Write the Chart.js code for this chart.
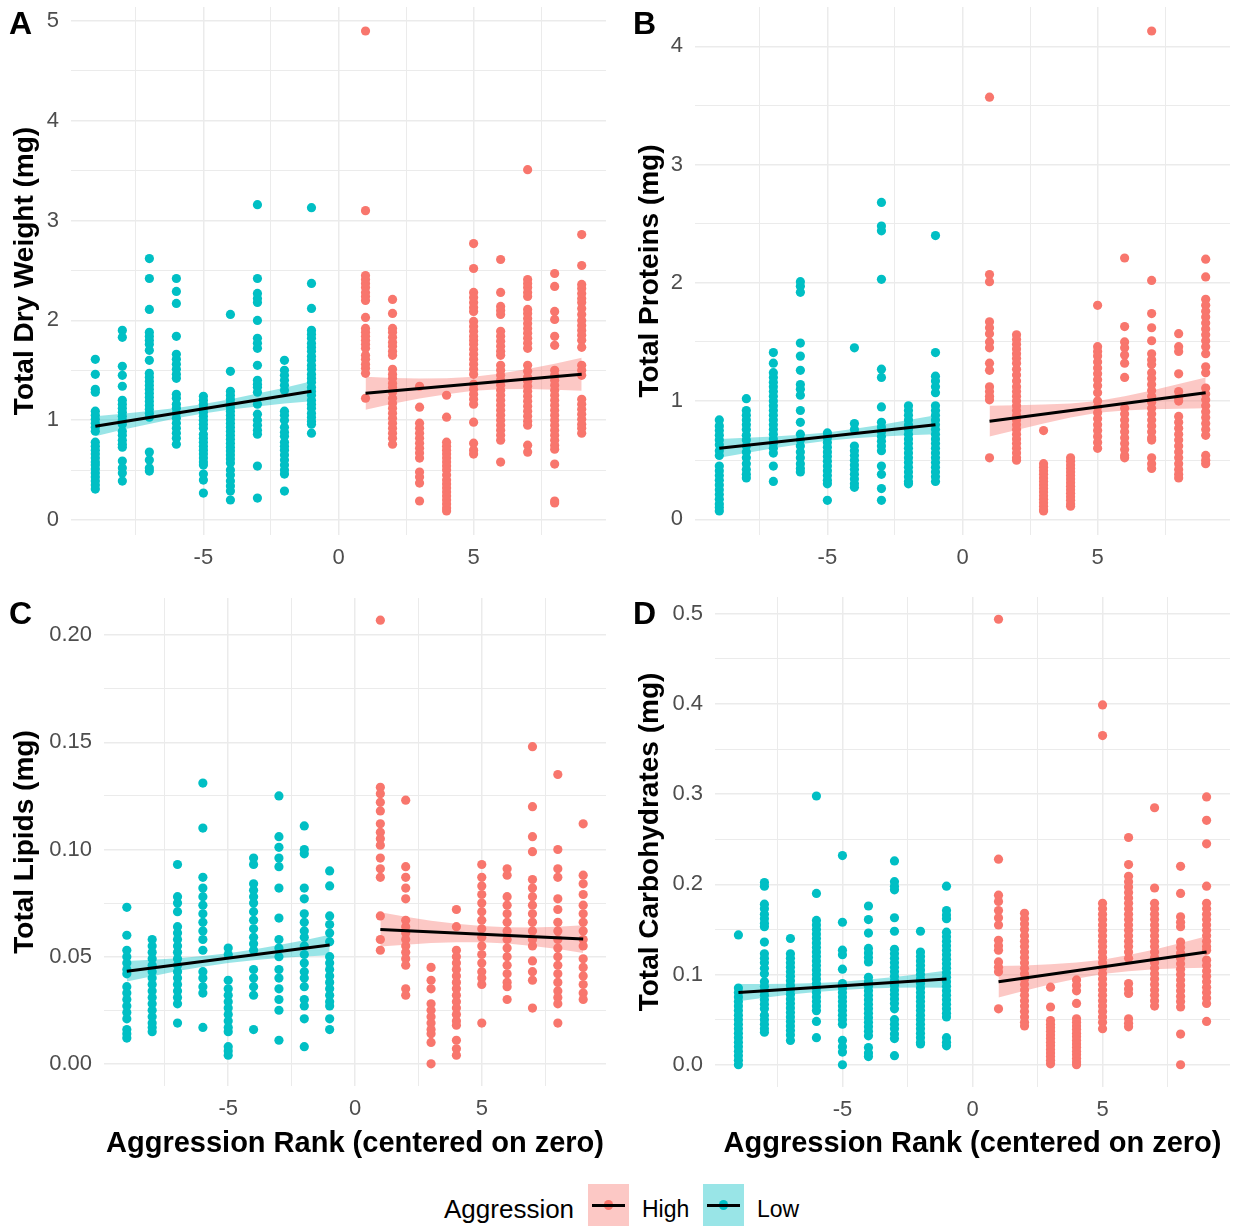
<!DOCTYPE html>
<html>
<head>
<meta charset="utf-8">
<title>Aggression rank and body composition</title>
<script src="https://cdn.jsdelivr.net/npm/chart.js@4.4.1/dist/chart.umd.min.js"></script>
<style>
  html, body { margin: 0; padding: 0; background: #ffffff; }
  #wrap { position: relative; width: 1241px; height: 1226px; overflow: hidden; background: #ffffff;
          font-family: 'Liberation Sans', Arial, Helvetica, sans-serif; }
  .panel { position: absolute; }
  .panel canvas { display: block; }
  .tag { position: absolute; font-weight: bold; font-size: 32px; line-height: 32px; color: #000; }
  .legend-text { position: absolute; color: #000; white-space: nowrap; }
  .key { position: absolute; width: 41px; height: 42px; }
  .key .dot { position: absolute; left: 15.9px; top: 16.4px; width: 9.2px; height: 9.2px; border-radius: 50%; }
  .key .bar { position: absolute; left: 4px; top: 19.5px; width: 33px; height: 3px; background: #000; }
</style>
</head>
<body>
<div id="wrap">
  <div class="panel" style="left:0px;top:0px;"><canvas id="cA" width="620" height="580"></canvas></div>
  <div class="panel" style="left:622px;top:0px;"><canvas id="cB" width="619" height="580"></canvas></div>
  <div class="panel" style="left:0px;top:580px;"><canvas id="cC" width="620" height="600"></canvas></div>
  <div class="panel" style="left:622px;top:580px;"><canvas id="cD" width="619" height="600"></canvas></div>

  <div class="tag" style="left:9px;top:7px;">A</div>
  <div class="tag" style="left:633px;top:7px;">B</div>
  <div class="tag" style="left:9px;top:597px;">C</div>
  <div class="tag" style="left:633px;top:597px;">D</div>

  <div class="legend-text" style="left:444px;top:1194px;font-size:26px;line-height:30px;">Aggression</div>
  <div class="key" style="left:588px;top:1184px;background:rgba(248,118,109,0.4);"><i class="dot" style="background:#F8766D;"></i><i class="bar"></i></div>
  <div class="legend-text" style="left:642px;top:1195px;font-size:23px;line-height:28px;">High</div>
  <div class="key" style="left:703px;top:1184px;background:rgba(0,191,196,0.4);"><i class="dot" style="background:#00BFC4;"></i><i class="bar"></i></div>
  <div class="legend-text" style="left:757px;top:1195px;font-size:23px;line-height:28px;">Low</div>
</div>

<script>
// ---------------------------------------------------------------
// Aggression ranks (centred on zero) for the two groups
// ---------------------------------------------------------------
const lowRanks  = [-9, -8, -7, -6, -5, -4, -3, -2, -1];
const highRanks = [1, 2, 3, 4, 5, 6, 7, 8, 9];

// ---------------------------------------------------------------
// Total dry weight (mg): one list of individuals per rank
// ---------------------------------------------------------------
const dryLow = [
  [1.61, 1.46, 1.31, 1.28, 1.09, 1.05, 1.01, 0.97, 0.93, 0.89, 0.78, 0.74, 0.70, 0.66, 0.62, 0.58, 0.55, 0.51, 0.47, 0.43, 0.39, 0.35, 0.31],
  [1.90, 1.83, 1.54, 1.45, 1.34, 1.20, 1.16, 1.12, 1.08, 1.04, 1.00, 0.96, 0.89, 0.85, 0.80, 0.76, 0.73, 0.59, 0.52, 0.47, 0.39],
  [2.62, 2.42, 2.11, 1.88, 1.84, 1.80, 1.76, 1.70, 1.60, 1.47, 1.43, 1.39, 1.35, 1.31, 1.27, 1.23, 1.19, 1.15, 1.11, 1.07, 1.03, 0.68, 0.60, 0.52, 0.49],
  [2.42, 2.29, 2.17, 1.84, 1.66, 1.61, 1.56, 1.51, 1.46, 1.42, 1.26, 1.22, 1.16, 1.12, 1.07, 1.02, 0.97, 0.92, 0.87, 0.82, 0.76],
  [1.24, 1.20, 1.16, 1.12, 1.08, 1.04, 1.00, 0.96, 0.92, 0.86, 0.82, 0.78, 0.74, 0.70, 0.66, 0.62, 0.58, 0.55, 0.46, 0.40, 0.27],
  [2.06, 1.49, 1.29, 1.25, 1.21, 1.17, 1.13, 1.09, 1.05, 1.01, 0.97, 0.93, 0.89, 0.85, 0.81, 0.77, 0.73, 0.69, 0.65, 0.61, 0.57, 0.50, 0.45, 0.39, 0.34, 0.29, 0.20],
  [3.16, 2.42, 2.27, 2.22, 2.18, 2.00, 1.82, 1.77, 1.72, 1.55, 1.40, 1.36, 1.33, 1.28, 1.16, 1.06, 1.00, 0.95, 0.90, 0.86, 0.54, 0.22],
  [1.60, 1.50, 1.45, 1.40, 1.35, 1.30, 1.09, 1.05, 1.00, 0.93, 0.88, 0.84, 0.78, 0.74, 0.70, 0.65, 0.60, 0.55, 0.50, 0.46, 0.29],
  [3.13, 2.37, 2.12, 1.90, 1.86, 1.82, 1.77, 1.73, 1.69, 1.64, 1.60, 1.55, 1.51, 1.46, 1.42, 1.38, 1.33, 1.29, 1.25, 1.20, 1.16, 1.12, 1.07, 1.03, 0.99, 0.96, 0.87]
];
const dryHigh = [
  [4.90, 3.10, 2.45, 2.41, 2.37, 2.33, 2.28, 2.24, 2.20, 2.03, 1.92, 1.88, 1.84, 1.80, 1.76, 1.72, 1.65, 1.61, 1.56, 1.52, 1.47, 1.22],
  [2.21, 2.07, 1.92, 1.88, 1.83, 1.78, 1.74, 1.69, 1.65, 1.51, 1.46, 1.42, 1.37, 1.33, 1.28, 1.22, 1.17, 1.12, 1.07, 1.02, 0.97, 0.92, 0.87, 0.82, 0.76],
  [1.34, 1.13, 0.97, 0.92, 0.87, 0.82, 0.77, 0.72, 0.67, 0.62, 0.48, 0.43, 0.37, 0.19],
  [1.25, 1.03, 0.78, 0.74, 0.70, 0.66, 0.62, 0.58, 0.54, 0.50, 0.45, 0.40, 0.36, 0.32, 0.28, 0.24, 0.20, 0.16, 0.12, 0.09],
  [2.77, 2.52, 2.28, 2.23, 2.18, 2.13, 2.09, 1.99, 1.94, 1.89, 1.84, 1.80, 1.76, 1.71, 1.66, 1.61, 1.56, 1.51, 1.46, 1.36, 1.31, 1.26, 1.21, 1.16, 0.98, 0.77, 0.70, 0.66],
  [2.61, 2.28, 2.14, 2.10, 2.06, 1.89, 1.84, 1.79, 1.74, 1.69, 1.65, 1.55, 1.50, 1.45, 1.40, 1.35, 1.30, 1.25, 1.20, 1.15, 1.10, 1.05, 1.00, 0.95, 0.90, 0.85, 0.80, 0.58],
  [3.51, 2.41, 2.37, 2.33, 2.28, 2.24, 2.11, 2.07, 2.02, 1.97, 1.92, 1.87, 1.82, 1.77, 1.72, 1.55, 1.49, 1.43, 1.39, 1.34, 1.29, 1.24, 1.19, 1.14, 1.09, 1.04, 0.99, 0.95, 0.75, 0.68],
  [2.47, 2.34, 2.09, 2.01, 1.84, 1.75, 1.50, 1.45, 1.40, 1.35, 1.30, 1.25, 1.20, 1.15, 1.10, 1.05, 1.00, 0.95, 0.90, 0.85, 0.80, 0.75, 0.71, 0.56, 0.19, 0.17],
  [2.86, 2.55, 2.36, 2.32, 2.27, 2.22, 2.18, 2.12, 2.06, 2.00, 1.95, 1.90, 1.85, 1.80, 1.73, 1.55, 1.50, 1.45, 1.21, 1.16, 1.11, 1.06, 1.01, 0.96, 0.92, 0.87]
];
// linear fit at the first and last rank of each group, and its 95% band per rank
const dryLowFit  = [0.94, 1.29];
const dryHighFit = [1.27, 1.46];
const dryLowBandLo  = [0.840, 0.904, 0.963, 1.019, 1.068, 1.107, 1.138, 1.166, 1.190];
const dryLowBandHi  = [1.040, 1.064, 1.093, 1.123, 1.162, 1.211, 1.268, 1.326, 1.390];
const dryHighBandLo = [1.105, 1.164, 1.217, 1.261, 1.295, 1.309, 1.312, 1.306, 1.295];
const dryHighBandHi = [1.435, 1.424, 1.417, 1.421, 1.435, 1.469, 1.512, 1.566, 1.625];

// ---------------------------------------------------------------
// Total proteins (mg)
// ---------------------------------------------------------------
const protLow = [
  [0.84, 0.79, 0.75, 0.71, 0.67, 0.63, 0.58, 0.54, 0.45, 0.41, 0.37, 0.33, 0.29, 0.25, 0.21, 0.17, 0.13, 0.10, 0.07],
  [1.02, 0.92, 0.88, 0.84, 0.80, 0.76, 0.71, 0.67, 0.62, 0.57, 0.52, 0.47, 0.42, 0.38, 0.35],
  [1.41, 1.32, 1.24, 1.20, 1.16, 1.12, 1.08, 1.04, 1.00, 0.96, 0.92, 0.88, 0.84, 0.80, 0.76, 0.72, 0.68, 0.64, 0.60, 0.56, 0.45, 0.32],
  [2.01, 1.97, 1.92, 1.49, 1.38, 1.26, 1.14, 1.10, 1.05, 0.92, 0.82, 0.72, 0.67, 0.62, 0.57, 0.52, 0.47, 0.43, 0.40],
  [0.73, 0.69, 0.65, 0.61, 0.57, 0.53, 0.49, 0.45, 0.41, 0.37, 0.33, 0.30, 0.16],
  [1.45, 0.81, 0.76, 0.62, 0.58, 0.54, 0.50, 0.46, 0.42, 0.38, 0.34, 0.30, 0.27],
  [2.68, 2.48, 2.44, 2.03, 1.27, 1.20, 0.95, 0.82, 0.78, 0.74, 0.70, 0.66, 0.62, 0.58, 0.45, 0.38, 0.26, 0.16],
  [0.96, 0.92, 0.88, 0.84, 0.80, 0.76, 0.72, 0.68, 0.64, 0.60, 0.56, 0.52, 0.48, 0.44, 0.40, 0.36, 0.32, 0.30],
  [2.40, 1.41, 1.21, 1.17, 1.12, 1.07, 0.96, 0.92, 0.88, 0.84, 0.80, 0.76, 0.72, 0.68, 0.64, 0.60, 0.56, 0.52, 0.48, 0.44, 0.40, 0.36, 0.32]
];
const protHigh = [
  [3.57, 2.07, 2.01, 1.67, 1.62, 1.57, 1.50, 1.45, 1.32, 1.26, 1.12, 1.08, 1.04, 1.01, 0.52],
  [1.56, 1.52, 1.48, 1.44, 1.40, 1.36, 1.32, 1.27, 1.22, 1.17, 1.12, 1.08, 1.04, 1.00, 0.96, 0.92, 0.88, 0.84, 0.80, 0.76, 0.72, 0.68, 0.64, 0.60, 0.56, 0.52, 0.50],
  [0.75, 0.47, 0.44, 0.41, 0.38, 0.35, 0.32, 0.29, 0.26, 0.23, 0.20, 0.17, 0.14, 0.11, 0.08, 0.07],
  [0.52, 0.49, 0.46, 0.43, 0.40, 0.37, 0.34, 0.31, 0.28, 0.25, 0.22, 0.19, 0.16, 0.13, 0.11],
  [1.81, 1.46, 1.42, 1.38, 1.33, 1.28, 1.23, 1.18, 1.13, 1.07, 1.00, 0.95, 0.90, 0.85, 0.80, 0.75, 0.70, 0.65, 0.60],
  [2.21, 1.63, 1.50, 1.45, 1.39, 1.32, 1.20, 0.94, 0.89, 0.84, 0.79, 0.74, 0.69, 0.64, 0.59, 0.54, 0.52],
  [4.13, 2.02, 1.74, 1.62, 1.51, 1.40, 1.35, 1.31, 1.24, 1.19, 1.14, 1.09, 1.04, 0.99, 0.94, 0.89, 0.84, 0.79, 0.74, 0.69, 0.67, 0.52, 0.47, 0.43],
  [1.57, 1.46, 1.42, 1.23, 1.08, 1.03, 1.00, 0.87, 0.82, 0.77, 0.72, 0.67, 0.62, 0.57, 0.52, 0.47, 0.42, 0.38, 0.35],
  [2.20, 2.05, 1.86, 1.81, 1.76, 1.71, 1.66, 1.61, 1.56, 1.51, 1.46, 1.40, 1.29, 1.24, 1.11, 1.06, 1.01, 0.96, 0.91, 0.86, 0.81, 0.76, 0.71, 0.54, 0.50, 0.47]
];
const protLowFit  = [0.60, 0.80];
const protHighFit = [0.83, 1.07];
const protLowBandLo  = [0.520, 0.560, 0.600, 0.635, 0.665, 0.685, 0.700, 0.710, 0.720];
const protLowBandHi  = [0.680, 0.690, 0.700, 0.715, 0.735, 0.765, 0.800, 0.840, 0.880];
const protHighBandLo = [0.700, 0.755, 0.810, 0.860, 0.900, 0.920, 0.930, 0.935, 0.940];
const protHighBandHi = [0.960, 0.965, 0.970, 0.980, 1.000, 1.040, 1.090, 1.145, 1.200];

// ---------------------------------------------------------------
// Total lipids (mg)
// ---------------------------------------------------------------
const lipLow = [
  [0.073, 0.060, 0.053, 0.050, 0.047, 0.044, 0.042, 0.036, 0.033, 0.030, 0.027, 0.024, 0.021, 0.016, 0.014, 0.012],
  [0.058, 0.055, 0.052, 0.049, 0.046, 0.043, 0.040, 0.037, 0.034, 0.031, 0.028, 0.025, 0.022, 0.019, 0.017, 0.015],
  [0.093, 0.078, 0.075, 0.071, 0.064, 0.061, 0.058, 0.055, 0.052, 0.049, 0.046, 0.043, 0.040, 0.037, 0.034, 0.031, 0.028, 0.019],
  [0.131, 0.110, 0.087, 0.082, 0.078, 0.074, 0.070, 0.066, 0.062, 0.058, 0.053, 0.043, 0.040, 0.036, 0.033, 0.017],
  [0.054, 0.051, 0.039, 0.035, 0.032, 0.029, 0.026, 0.023, 0.020, 0.017, 0.015, 0.008, 0.006, 0.004],
  [0.096, 0.093, 0.084, 0.081, 0.078, 0.075, 0.071, 0.067, 0.063, 0.059, 0.056, 0.053, 0.044, 0.040, 0.036, 0.032, 0.016],
  [0.125, 0.106, 0.101, 0.096, 0.092, 0.082, 0.068, 0.058, 0.054, 0.050, 0.044, 0.040, 0.035, 0.030, 0.025, 0.011],
  [0.111, 0.100, 0.098, 0.082, 0.077, 0.070, 0.066, 0.062, 0.059, 0.055, 0.051, 0.047, 0.043, 0.040, 0.036, 0.030, 0.027, 0.021, 0.008],
  [0.090, 0.083, 0.069, 0.065, 0.061, 0.057, 0.050, 0.047, 0.044, 0.041, 0.038, 0.035, 0.032, 0.029, 0.027, 0.021, 0.016]
];
const lipHigh = [
  [0.207, 0.129, 0.126, 0.122, 0.118, 0.112, 0.108, 0.105, 0.102, 0.096, 0.091, 0.087, 0.069, 0.058, 0.053],
  [0.123, 0.092, 0.087, 0.082, 0.077, 0.067, 0.064, 0.061, 0.058, 0.055, 0.052, 0.049, 0.046, 0.035, 0.032],
  [0.045, 0.039, 0.035, 0.028, 0.025, 0.022, 0.019, 0.016, 0.014, 0.010, 0.000],
  [0.072, 0.064, 0.053, 0.050, 0.047, 0.044, 0.041, 0.038, 0.035, 0.032, 0.029, 0.026, 0.023, 0.020, 0.018, 0.011, 0.007, 0.004],
  [0.093, 0.087, 0.083, 0.079, 0.075, 0.071, 0.067, 0.063, 0.059, 0.055, 0.051, 0.047, 0.043, 0.040, 0.037, 0.019],
  [0.091, 0.088, 0.078, 0.074, 0.070, 0.066, 0.062, 0.058, 0.054, 0.050, 0.046, 0.042, 0.038, 0.036, 0.030],
  [0.148, 0.120, 0.106, 0.099, 0.086, 0.082, 0.078, 0.074, 0.070, 0.066, 0.062, 0.058, 0.055, 0.048, 0.043, 0.039, 0.026],
  [0.135, 0.100, 0.091, 0.087, 0.077, 0.072, 0.066, 0.062, 0.058, 0.054, 0.050, 0.046, 0.042, 0.038, 0.034, 0.031, 0.028, 0.019],
  [0.112, 0.088, 0.084, 0.079, 0.074, 0.070, 0.066, 0.062, 0.058, 0.055, 0.049, 0.045, 0.041, 0.037, 0.033, 0.030]
];
const lipLowFit  = [0.0432, 0.0554];
const lipHighFit = [0.0627, 0.0582];
const lipLowBandLo  = [0.0384, 0.0409, 0.0433, 0.0453, 0.0470, 0.0483, 0.0494, 0.0501, 0.0506];
const lipLowBandHi  = [0.0480, 0.0485, 0.0493, 0.0503, 0.0516, 0.0533, 0.0554, 0.0577, 0.0602];
const lipHighBandLo = [0.0547, 0.0556, 0.0564, 0.0567, 0.0567, 0.0561, 0.0550, 0.0536, 0.0517];
const lipHighBandHi = [0.0707, 0.0686, 0.0668, 0.0653, 0.0643, 0.0637, 0.0636, 0.0640, 0.0647];

// ---------------------------------------------------------------
// Total carbohydrates (mg)
// ---------------------------------------------------------------
const carbLow = [
  [0.144, 0.085, 0.080, 0.075, 0.070, 0.065, 0.060, 0.055, 0.050, 0.045, 0.040, 0.035, 0.030, 0.025, 0.020, 0.015, 0.010, 0.005, 0.000],
  [0.202, 0.198, 0.178, 0.173, 0.167, 0.162, 0.157, 0.153, 0.136, 0.123, 0.118, 0.113, 0.107, 0.101, 0.092, 0.087, 0.082, 0.077, 0.072, 0.067, 0.062, 0.055, 0.050, 0.045, 0.040, 0.036],
  [0.140, 0.123, 0.118, 0.113, 0.108, 0.103, 0.098, 0.093, 0.088, 0.083, 0.078, 0.073, 0.068, 0.063, 0.058, 0.053, 0.048, 0.043, 0.038, 0.033, 0.027],
  [0.298, 0.190, 0.160, 0.155, 0.150, 0.145, 0.140, 0.135, 0.130, 0.125, 0.120, 0.115, 0.110, 0.105, 0.100, 0.095, 0.090, 0.085, 0.080, 0.075, 0.070, 0.065, 0.060, 0.048, 0.030],
  [0.232, 0.158, 0.127, 0.122, 0.106, 0.090, 0.085, 0.080, 0.075, 0.070, 0.065, 0.060, 0.055, 0.050, 0.045, 0.027, 0.020, 0.014, 0.000],
  [0.176, 0.161, 0.146, 0.129, 0.124, 0.119, 0.114, 0.097, 0.092, 0.087, 0.082, 0.077, 0.072, 0.067, 0.062, 0.057, 0.052, 0.047, 0.042, 0.037, 0.032, 0.019, 0.013, 0.009],
  [0.226, 0.203, 0.198, 0.194, 0.163, 0.148, 0.128, 0.123, 0.118, 0.113, 0.108, 0.103, 0.098, 0.093, 0.088, 0.083, 0.078, 0.073, 0.068, 0.062, 0.050, 0.045, 0.040, 0.034, 0.029, 0.010],
  [0.148, 0.125, 0.120, 0.115, 0.110, 0.105, 0.100, 0.095, 0.090, 0.085, 0.080, 0.075, 0.070, 0.065, 0.060, 0.055, 0.050, 0.045, 0.040, 0.035, 0.030, 0.025, 0.023],
  [0.198, 0.171, 0.166, 0.162, 0.147, 0.142, 0.137, 0.132, 0.127, 0.122, 0.117, 0.112, 0.107, 0.102, 0.097, 0.092, 0.087, 0.082, 0.077, 0.072, 0.067, 0.062, 0.057, 0.053, 0.030, 0.025, 0.021]
];
const carbHigh = [
  [0.494, 0.228, 0.188, 0.181, 0.171, 0.163, 0.155, 0.138, 0.132, 0.127, 0.114, 0.108, 0.103, 0.062],
  [0.168, 0.162, 0.156, 0.150, 0.143, 0.137, 0.131, 0.125, 0.119, 0.113, 0.107, 0.101, 0.095, 0.089, 0.083, 0.077, 0.071, 0.065, 0.059, 0.053, 0.047, 0.043],
  [0.086, 0.064, 0.049, 0.045, 0.041, 0.037, 0.033, 0.029, 0.025, 0.021, 0.017, 0.013, 0.009, 0.005, 0.001],
  [0.094, 0.088, 0.082, 0.068, 0.051, 0.047, 0.043, 0.039, 0.035, 0.031, 0.027, 0.023, 0.019, 0.015, 0.011, 0.007, 0.003, 0.000],
  [0.399, 0.365, 0.179, 0.173, 0.167, 0.161, 0.155, 0.149, 0.143, 0.137, 0.131, 0.125, 0.119, 0.113, 0.107, 0.101, 0.095, 0.089, 0.083, 0.077, 0.071, 0.065, 0.059, 0.053, 0.047, 0.040],
  [0.252, 0.222, 0.209, 0.203, 0.197, 0.191, 0.185, 0.179, 0.173, 0.167, 0.161, 0.155, 0.149, 0.143, 0.137, 0.131, 0.125, 0.118, 0.090, 0.084, 0.079, 0.051, 0.046, 0.042],
  [0.285, 0.196, 0.179, 0.173, 0.167, 0.161, 0.155, 0.149, 0.143, 0.137, 0.131, 0.125, 0.119, 0.113, 0.107, 0.101, 0.095, 0.089, 0.083, 0.077, 0.071, 0.065],
  [0.220, 0.190, 0.164, 0.158, 0.153, 0.136, 0.130, 0.124, 0.118, 0.112, 0.106, 0.100, 0.094, 0.088, 0.082, 0.076, 0.070, 0.064, 0.034, 0.000],
  [0.297, 0.271, 0.245, 0.198, 0.179, 0.173, 0.167, 0.161, 0.155, 0.149, 0.143, 0.137, 0.131, 0.127, 0.116, 0.110, 0.104, 0.098, 0.092, 0.086, 0.080, 0.074, 0.068, 0.048]
];
const carbLowFit  = [0.080, 0.095];
const carbHighFit = [0.092, 0.125];
const carbLowBandLo  = [0.0705, 0.0744, 0.0778, 0.0806, 0.0830, 0.0844, 0.0853, 0.0856, 0.0855];
const carbLowBandHi  = [0.0895, 0.0894, 0.0898, 0.0906, 0.0920, 0.0944, 0.0973, 0.1006, 0.1045];
const carbHighBandLo = [0.0745, 0.0821, 0.0893, 0.0954, 0.1005, 0.1036, 0.1058, 0.1069, 0.1075];
const carbHighBandHi = [0.1095, 0.1101, 0.1113, 0.1134, 0.1165, 0.1216, 0.1278, 0.1349, 0.1425];

// x-axis grid positions and the ones that carry a label
const xGridValues  = [-7.5, -5, -2.5, 0, 2.5, 5, 7.5];
const xLabelValues = [-5, 0, 5];

// ---------------------------------------------------------------
// Styling and layout
// ---------------------------------------------------------------
const FONT = "'Liberation Sans', Arial, Helvetica, sans-serif";
Chart.defaults.font.family = FONT;

const COLOR_HIGH = '#F8766D';
const COLOR_LOW  = '#00BFC4';
const BAND_HIGH  = 'rgba(248,118,109,0.4)';
const BAND_LOW   = 'rgba(0,191,196,0.4)';
const GRID       = '#EBEBEB';

const panels = [
  { canvas: 'cA', yTitle: 'Total Dry Weight (mg)', low: dryLow, high: dryHigh,
    lowFit: dryLowFit, highFit: dryHighFit,
    lowBand: [dryLowBandLo, dryLowBandHi], highBand: [dryHighBandLo, dryHighBandHi],
    major: 1, minor: 0.5, digits: 0, xTitle: false,
    area: { l: 71, t: 7, r: 606, b: 535 }, titlePad: 8 },
  { canvas: 'cB', yTitle: 'Total Proteins (mg)', low: protLow, high: protHigh,
    lowFit: protLowFit, highFit: protHighFit,
    lowBand: [protLowBandLo, protLowBandHi], highBand: [protHighBandLo, protHighBandHi],
    major: 1, minor: 0.5, digits: 0, xTitle: false,
    area: { l: 73, t: 7, r: 608, b: 535 }, titlePad: 11 },
  { canvas: 'cC', yTitle: 'Total Lipids (mg)', low: lipLow, high: lipHigh,
    lowFit: lipLowFit, highFit: lipHighFit,
    lowBand: [lipLowBandLo, lipLowBandHi], highBand: [lipHighBandLo, lipHighBandHi],
    major: 0.05, minor: 0.025, digits: 2, xTitle: true,
    area: { l: 104, t: 18, r: 606, b: 506 }, titlePad: 8 },
  { canvas: 'cD', yTitle: 'Total Carbohydrates (mg)', low: carbLow, high: carbHigh,
    lowFit: carbLowFit, highFit: carbHighFit,
    lowBand: [carbLowBandLo, carbLowBandHi], highBand: [carbHighBandLo, carbHighBandHi],
    major: 0.1, minor: 0.05, digits: 1, xTitle: true,
    area: { l: 93, t: 17, r: 608, b: 507 }, titlePad: 11 }
];

// ---------------------------------------------------------------
// Helpers turning the arrays into Chart.js points
// ---------------------------------------------------------------
function columnPoints(ranks, columns) {
  const out = [];
  ranks.forEach((r, i) => columns[i].forEach(v => out.push({ x: r, y: v })));
  return out;
}
function rankSeries(ranks, values) {
  return ranks.map((r, i) => ({ x: r, y: values[i] }));
}
function fitSeries(ranks, fit) {
  return [{ x: ranks[0], y: fit[0] }, { x: ranks[ranks.length - 1], y: fit[1] }];
}
function isMultiple(v, step) {
  const q = v / step;
  return Math.abs(q - Math.round(q)) < 1e-6;
}

function pointSet(data, color) {
  return { data, showLine: false, order: 3, pointRadius: 4.6, pointHoverRadius: 4.6,
           pointBorderWidth: 0, pointBackgroundColor: color, pointBorderColor: color };
}
function bandUpper(data, color) {
  return { data, showLine: true, fill: '+1', backgroundColor: color, borderWidth: 0,
           pointRadius: 0, pointHoverRadius: 0, tension: 0, order: 2 };
}
function bandLower(data) {
  return { data, showLine: true, fill: false, borderWidth: 0,
           pointRadius: 0, pointHoverRadius: 0, tension: 0, order: 2 };
}
function fitLine(data) {
  return { data, showLine: true, fill: false, borderColor: '#000000', borderWidth: 3,
           pointRadius: 0, pointHoverRadius: 0, tension: 0, order: 1, borderCapStyle: 'butt' };
}

panels.forEach(p => {
  const cv = document.getElementById(p.canvas);
  const W = cv.width, H = cv.height;

  // y limits: data range expanded by 5% on each side
  const all = p.low.flat().concat(p.high.flat());
  const lo = Math.min(...all), hi = Math.max(...all);
  const pad = (hi - lo) * 0.05;
  const yMin = lo - pad, yMax = hi + pad;

  const yTicks = [];
  for (let k = 0; k * p.minor <= yMax + 1e-9; k++) {
    const v = +(k * p.minor).toFixed(6);
    if (v >= yMin) yTicks.push(v);
  }

  const datasets = [
    pointSet(columnPoints(lowRanks, p.low), COLOR_LOW),
    pointSet(columnPoints(highRanks, p.high), COLOR_HIGH),
    bandUpper(rankSeries(lowRanks, p.lowBand[1]), BAND_LOW),
    bandLower(rankSeries(lowRanks, p.lowBand[0])),
    bandUpper(rankSeries(highRanks, p.highBand[1]), BAND_HIGH),
    bandLower(rankSeries(highRanks, p.highBand[0])),
    fitLine(fitSeries(lowRanks, p.lowFit)),
    fitLine(fitSeries(highRanks, p.highFit))
  ];

  new Chart(cv, {
    type: 'line',
    data: { datasets },
    options: {
      responsive: false,
      animation: false,
      events: [],
      layout: { padding: { left: 0, top: p.area.t, right: W - p.area.r, bottom: 0 } },
      plugins: { legend: { display: false }, tooltip: { enabled: false }, title: { display: false } },
      scales: {
        x: {
          type: 'linear', position: 'bottom', min: -9.9, max: 9.9,
          afterBuildTicks: axis => { axis.ticks = xGridValues.map(v => ({ value: v })); },
          afterFit: axis => {
            axis.height = H - p.area.b;
            axis.paddingLeft = 0; axis.paddingRight = 0; axis.paddingTop = 0; axis.paddingBottom = 0;
          },
          border: { display: false },
          grid: {
            drawTicks: false,
            color: GRID,
            lineWidth: ctx => (xLabelValues.includes(ctx.tick && ctx.tick.value) ? 1.5 : 1.0)
          },
          ticks: {
            autoSkip: false, maxRotation: 0, padding: 10, color: '#4D4D4D',
            font: { size: 22 },
            callback: v => (xLabelValues.includes(v) ? String(v) : '')
          },
          title: {
            display: p.xTitle, text: 'Aggression Rank (centered on zero)', color: '#000000',
            font: { size: 29, weight: 'bold' }, padding: { top: 0, bottom: 19 }
          }
        },
        y: {
          type: 'linear', position: 'left', min: yMin, max: yMax,
          afterBuildTicks: axis => { axis.ticks = yTicks.map(v => ({ value: v })); },
          afterFit: axis => {
            axis.width = p.area.l;
            axis.paddingLeft = 0; axis.paddingRight = 0; axis.paddingTop = 0; axis.paddingBottom = 0;
          },
          border: { display: false },
          grid: {
            drawTicks: false,
            color: GRID,
            lineWidth: ctx => (ctx.tick && isMultiple(ctx.tick.value, p.major) ? 1.5 : 1.0)
          },
          ticks: {
            autoSkip: false, padding: 12, color: '#4D4D4D',
            font: { size: 22 },
            callback: v => (isMultiple(v, p.major) ? v.toFixed(p.digits) : '')
          },
          title: {
            display: true, text: p.yTitle, color: '#000000',
            font: { size: 28, weight: 'bold' }, padding: { top: p.titlePad, bottom: 0 }
          }
        }
      }
    }
  });
});
</script>
</body>
</html>
